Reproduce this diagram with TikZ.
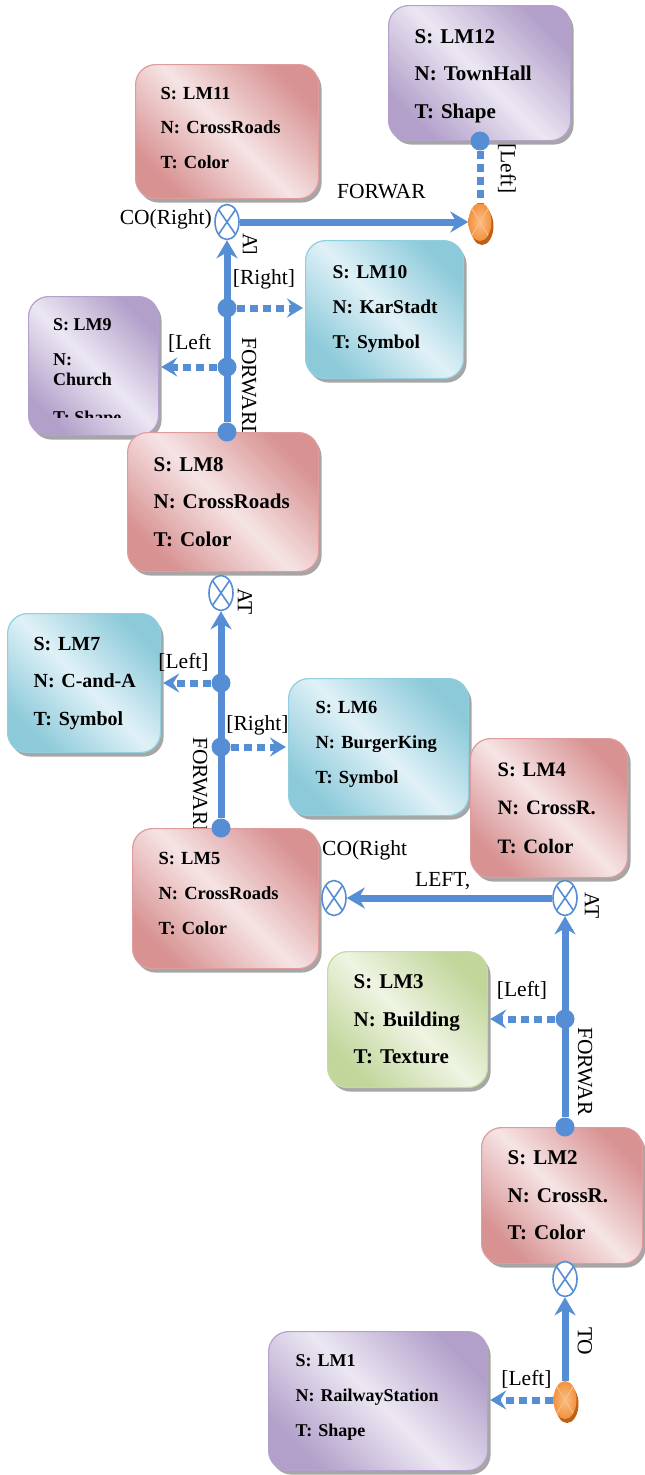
\documentclass[tikz,border=0pt]{standalone}
\usepackage{fontspec}
\setmainfont{Liberation Serif}
\usetikzlibrary{arrows.meta,shapes.geometric,shadows}
\definecolor{bluec}{RGB}{85,142,213}
\definecolor{redD}{RGB}{216,146,146}
\definecolor{redL}{RGB}{246,228,229}
\definecolor{redB}{RGB}{222,156,156}
\definecolor{purD}{RGB}{178,160,202}
\definecolor{purL}{RGB}{236,231,243}
\definecolor{purB}{RGB}{180,162,204}
\definecolor{cyD}{RGB}{140,202,218}
\definecolor{cyL}{RGB}{224,241,247}
\definecolor{cyB}{RGB}{145,206,222}
\definecolor{grD}{RGB}{194,214,156}
\definecolor{grL}{RGB}{238,244,226}
\definecolor{grB}{RGB}{198,218,162}
\definecolor{orM}{RGB}{243,146,62}
\definecolor{orL}{RGB}{250,190,135}
\definecolor{orD}{RGB}{190,96,22}
\tikzset{
 lmbox/.style={rectangle, rounded corners=20pt, anchor=north west, align=left, inner ysep=0pt, line width=1.2pt,
   drop shadow={shadow xshift=3pt, shadow yshift=-4pt, fill=black!50, opacity=0.7}},
 redbox/.style={lmbox, draw=redB, top color=redD, bottom color=redD, middle color=redL, shading angle=-45},
 purbox/.style={lmbox, draw=purB, top color=purD, bottom color=purD, middle color=purL, shading angle=-45},
 cybox/.style={lmbox, draw=cyB, top color=cyD, bottom color=cyD, middle color=cyL, shading angle=-45},
 grbox/.style={lmbox, draw=grB, top color=grD, bottom color=grD, middle color=grL, shading angle=-45},
 lbl/.style={font=\fontsize{21.5}{23}\selectfont, inner sep=0pt},
 rlbl/.style={lbl, rotate=-90, anchor=west},
 mainarrow/.style={draw=bluec, line width=7pt, -{Stealth[length=18pt,width=21pt,inset=6pt]}},
 dotarrow/.style={draw=bluec, line width=7pt, dash pattern=on 8pt off 5pt, -{Stealth[length=16pt,width=19pt,inset=6pt]}, shorten >=2pt},
 dotline/.style={draw=bluec, line width=7pt, dash pattern=on 8pt off 5pt},
 bdot/.style={circle, fill=bluec, minimum size=19pt, inner sep=0pt},
 cxm/.style={ellipse, draw=bluec, line width=1.6pt, fill=white, minimum width=24pt, minimum height=35pt, inner sep=0pt,
   path picture={\draw[bluec, line width=1.6pt] (path picture bounding box.north west) -- (path picture bounding box.south east)
     (path picture bounding box.north east) -- (path picture bounding box.south west);}},
 orm/.style={ellipse, minimum width=23pt, minimum height=38pt, inner sep=0pt, inner color=orL, outer color=orM,
   drop shadow={shadow xshift=2pt, shadow yshift=-4pt, fill=orD, opacity=1},
   path picture={\draw[orL, line width=1pt] (path picture bounding box.north west) -- (path picture bounding box.south east)
     (path picture bounding box.north east) -- (path picture bounding box.south west);}}
}
\begin{document}
\begin{tikzpicture}[x=1pt,y=-1pt]
\useasboundingbox (0,0) rectangle (645,1475);
% labels partly hidden by boxes
\node[rlbl] (fw8) at (249,337) {FORWARD};
\node[rlbl] (fw5) at (200,737) {FORWARD};
% boxes
\node[purbox, minimum width=182pt, minimum height=135pt, text width=130pt, inner xsep=26pt, font=\bfseries\fontsize{21}{37.5}\selectfont] (lm12) at (388,5) {\rule{0pt}{20pt}S:~LM12\\N:~TownHall\\T:~Shape};
\node[redbox, minimum width=183pt, minimum height=134pt, text width=133pt, inner xsep=25pt, font=\bfseries\fontsize{18.5}{34.5}\selectfont] (lm11) at (135,64) {S:~LM11\\N:~CrossRoads\\T:~Color\rule[-8pt]{0pt}{8pt}};
\node[cybox, minimum width=158pt, minimum height=138pt, text width=104pt, inner xsep=27pt, font=\bfseries\fontsize{19.5}{35}\selectfont] (lm10) at (305,240) {S:~LM10\\N:~KarStadt\\T:~Symbol};
\node[purbox, minimum width=130pt, minimum height=139pt, text width=78pt, inner xsep=26pt] (lm9) at (28,296) {};
\begin{scope}
\clip (28,296) rectangle (160,417.5);
\node[anchor=north west, align=left, inner sep=0pt, font=\bfseries\fontsize{18}{20}\selectfont] (lm9t) at (53,318.8) {S: LM9\\[15pt]N:\\Church\\[18pt]T: Shape};
\end{scope}
\node[redbox, minimum width=191pt, minimum height=139pt, text width=139pt, inner xsep=26pt, font=\bfseries\fontsize{21}{37.5}\selectfont] (lm8) at (127,432) {S:~LM8\\N:~CrossRoads\\T:~Color};
\node[cybox, minimum width=153pt, minimum height=139pt, text width=101pt, inner xsep=26pt, font=\bfseries\fontsize{20}{37.5}\selectfont] (lm7) at (7,613) {S:~LM7\\N:~\mbox{C-and-A}\\T:~Symbol};
\node[cybox, minimum width=180pt, minimum height=137pt, text width=126pt, inner xsep=27pt, font=\bfseries\fontsize{18.5}{35}\selectfont] (lm6) at (288,678) {S:~LM6\\N:~BurgerKing\\T:~Symbol\rule[-10pt]{0pt}{10pt}};
\node[redbox, minimum width=186pt, minimum height=140pt, text width=134pt, inner xsep=26pt, font=\bfseries\fontsize{18.5}{35}\selectfont] (lm5) at (132,828) {S:~LM5\\N:~CrossRoads\\T:~Color\rule[-10pt]{0pt}{10pt}};
\node[redbox, minimum width=157pt, minimum height=139pt, text width=103pt, inner xsep=27pt, font=\bfseries\fontsize{20.5}{38.5}\selectfont] (lm4) at (470,738) {S:~LM4\\N:~CrossR.\\T:~Color};
\node[grbox, minimum width=160pt, minimum height=136pt, text width=108pt, inner xsep=26pt, font=\bfseries\fontsize{21}{37.5}\selectfont] (lm3) at (327,951) {S:~LM3\\N:~Building\\T:~Texture};
\node[redbox, minimum width=161pt, minimum height=136pt, text width=109pt, inner xsep=26pt, font=\bfseries\fontsize{21}{37.5}\selectfont] (lm2) at (481,1127) {S:~LM2\\N:~CrossR.\\T:~Color};
\node[purbox, minimum width=219pt, minimum height=139pt, text width=165pt, inner xsep=27pt, font=\bfseries\fontsize{18}{35}\selectfont] (lm1) at (268,1331) {S:~LM1\\N:~RailwayStation\\T:~Shape\rule[-12pt]{0pt}{12pt}};
% markers and dots
\node[bdot] (d12) at (480,141) {};
\node[orm] (or12) at (480,222) {};
\node[cxm] (cx11) at (227,222) {};
\node[bdot] (d10) at (227,308) {};
\node[bdot] (d9) at (227,367) {};
\node[bdot] (d8) at (227,432) {};
\node[cxm] (cx8) at (221,593) {};
\node[bdot] (d7) at (221,683) {};
\node[bdot] (d6) at (221,747) {};
\node[bdot] (d5) at (221,828) {};
\node[cxm] (cx5) at (334,898) {};
\node[cxm] (cx4) at (565,898) {};
\node[bdot] (d3) at (565,1019) {};
\node[bdot] (d2) at (565,1127) {};
\node[cxm] (cx2) at (565,1279) {};
\node[orm] (or1) at (565,1400) {};
% connectors
\draw[mainarrow] (d8) -- (cx11);
\draw[mainarrow] (cx11) -- (or12);
\draw[dotline] (d12) -- (or12);
\draw[dotarrow] (d10) -- (d10 -| lm10.west);
\draw[dotarrow] (d9) -- (d9 -| lm9.east);
\draw[mainarrow] (d5) -- (cx8);
\draw[dotarrow] (d7) -- (d7 -| lm7.east);
\draw[dotarrow] (d6) -- (d6 -| lm6.west);
\draw[mainarrow] (cx4) -- (cx5);
\draw[mainarrow] (d2) -- (cx4);
\draw[dotarrow] (d3) -- (d3 -| lm3.east);
\draw[mainarrow] (or1) -- (cx2);
\draw[dotarrow] (or1) -- (or1 -| lm1.east);
% labels
\node[lbl, anchor=east] (l1) at (212,219) {CO(Right)};
\node[lbl, anchor=west] (l2) at (337,192) {FORWAR};
\node[rlbl] (l3) at (507,143) {[Left]};
\begin{scope}
\clip (230,226) rectangle (270,252);
\node[rlbl] (l4) at (250,233) {AT};
\end{scope}
\node[lbl] (l5) at (264,279) {[Right]};
\node[lbl, anchor=west] (l6) at (168,343) {[Left};
\node[rlbl] (l7) at (245,588) {AT};
\node[lbl] (l8) at (183.5,662) {[Left]};
\node[lbl] (l9) at (257.5,725) {[Right]};
\node[lbl, anchor=west] (l10) at (322,850) {CO(Right};
\node[lbl, anchor=west] (l11) at (415,881) {LEFT,};
\node[rlbl] (l12) at (592,892) {AT};
\node[lbl] (l13) at (522,990) {[Left]};
\node[rlbl] (l14) at (585,1027) {FORWAR};
\node[rlbl] (l15) at (585,1327) {TO};
\node[lbl] (l16) at (526.5,1379) {[Left]};
\end{tikzpicture}
\end{document}
